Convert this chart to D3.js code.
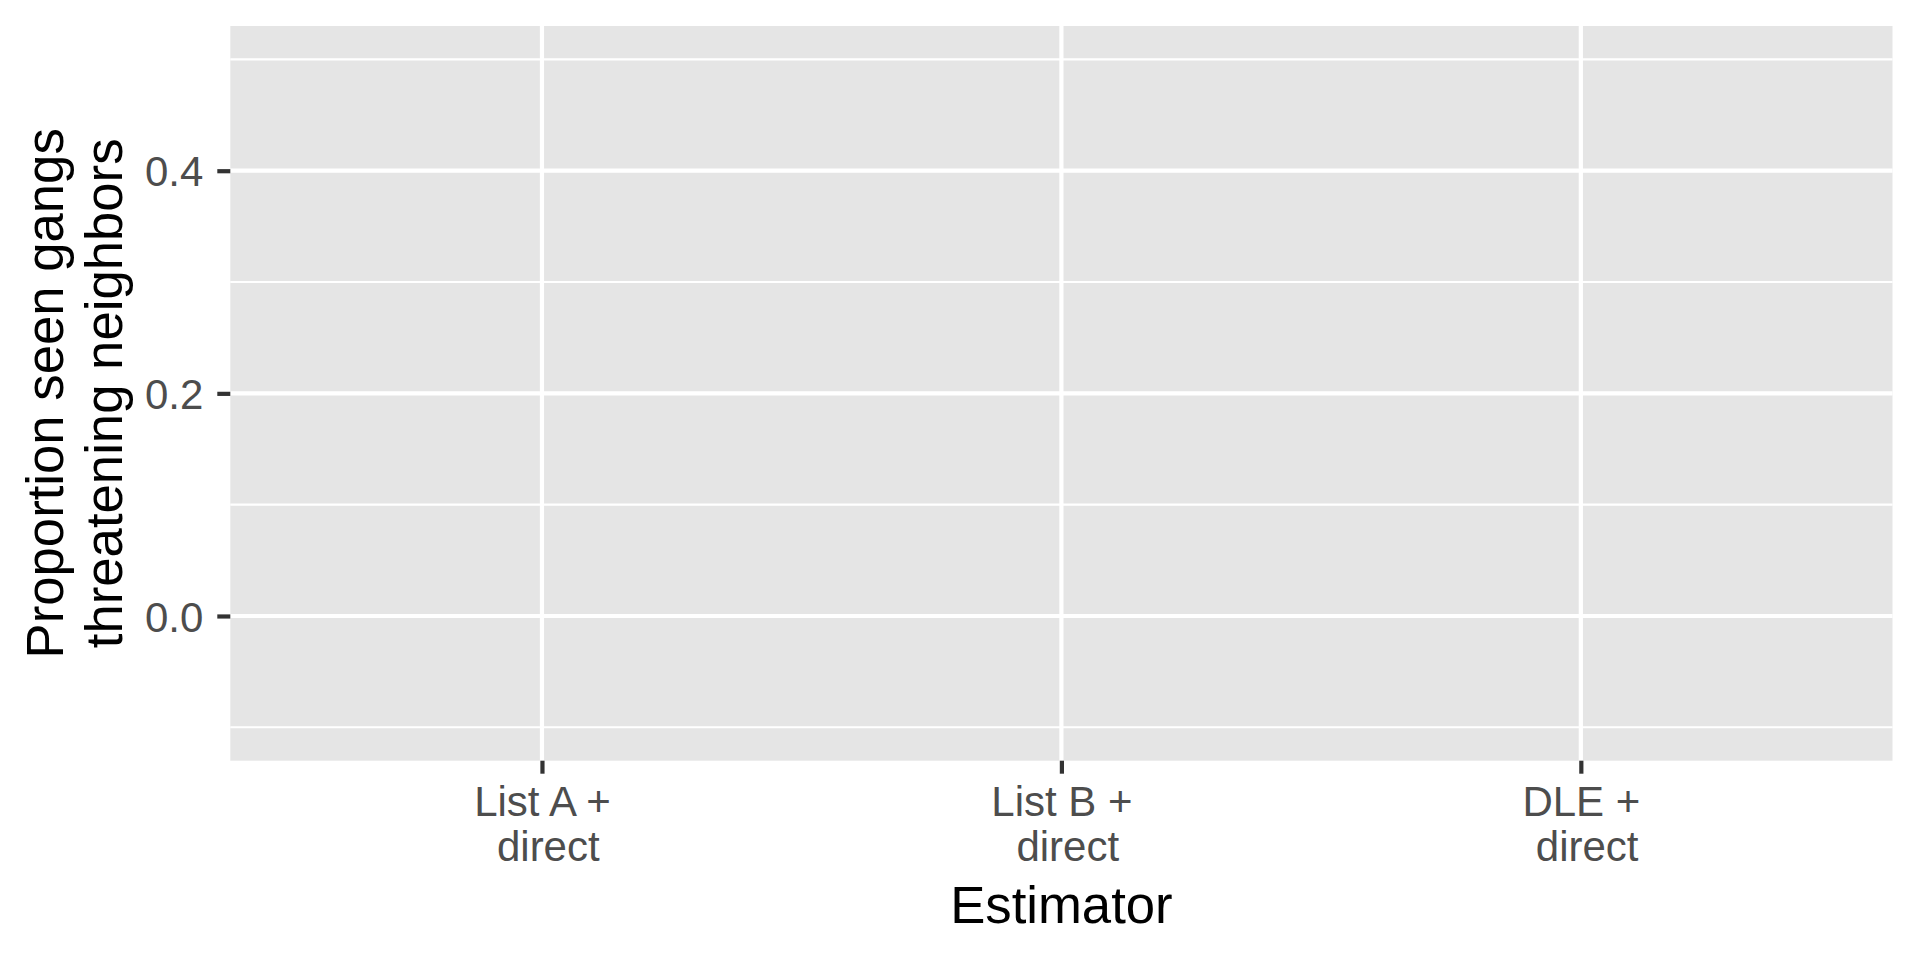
<!DOCTYPE html>
<html>
    <style>
        body { margin: 0; background: #fff; }
        text { font-family: "Liberation Sans", Arial, Helvetica, sans-serif; }
    </style>
    <body>
        <div id="chart"><svg></svg></div>
    </body>
    <script src="https://d3js.org/d3.v7.min.js"></script>
    <script>
    // x categories (each label has two lines, the second one starts with a space)
    var categories = ["List A +|\u00a0direct", "List B +|\u00a0direct", "DLE +|\u00a0direct"]
    // range of the estimates behind the (empty) panel
    var estimateRange = [-0.1, 0.5]
    var yTicks = [0, 0.2, 0.4]
    var yMinor = [-0.1, 0.1, 0.3, 0.5]
    var xTitle = "Estimator"
    var yTitle = ["Proportion seen gangs", "threatening neighbors"]

    var screen = {width: 1920, height: 960}
    var panel = {left: 230.3, right: 1892.5, top: 26, bottom: 760.7}

    var svg = d3.select("#chart svg")
                .attr("width", screen.width)
                .attr("height", screen.height)

    // discrete scale, ggplot style 0.6 expansion on each side
    var xScale = d3.scalePoint()
                   .domain(categories)
                   .range([panel.left, panel.right])
                   .padding(0.6)

    // continuous scale, 5% expansion
    var span = estimateRange[1] - estimateRange[0]
    var yScale = d3.scaleLinear()
                   .domain([estimateRange[0] - 0.05 * span, estimateRange[1] + 0.05 * span])
                   .range([panel.bottom, panel.top])

    svg.append("rect")
       .attr("x", panel.left)
       .attr("y", panel.top)
       .attr("width", panel.right - panel.left)
       .attr("height", panel.bottom - panel.top)
       .attr("fill", "#E5E5E5")

    var grid = svg.append("g")
    grid.selectAll(".minor")
        .data(yMinor)
        .enter()
        .append("line")
        .attr("x1", panel.left)
        .attr("x2", panel.right)
        .attr("y1", function(d){return yScale(d)})
        .attr("y2", function(d){return yScale(d)})
        .attr("stroke", "#fff")
        .attr("stroke-width", 2.1)
    grid.selectAll(".major")
        .data(yTicks)
        .enter()
        .append("line")
        .attr("x1", panel.left)
        .attr("x2", panel.right)
        .attr("y1", function(d){return yScale(d)})
        .attr("y2", function(d){return yScale(d)})
        .attr("stroke", "#fff")
        .attr("stroke-width", 4.2)
    grid.selectAll(".vmajor")
        .data(categories)
        .enter()
        .append("line")
        .attr("x1", function(d){return xScale(d)})
        .attr("x2", function(d){return xScale(d)})
        .attr("y1", panel.top)
        .attr("y2", panel.bottom)
        .attr("stroke", "#fff")
        .attr("stroke-width", 4.2)

    var yAxis = d3.axisLeft(yScale)
                  .tickValues(yTicks)
                  .tickFormat(d3.format(".1f"))
                  .tickSize(13)
                  .tickPadding(14)
    var xAxis = d3.axisBottom(xScale)
                  .tickSize(13)
                  .tickFormat("")

    var gy = svg.append("g")
                .attr("transform", "translate(" + panel.left + ",0)")
                .call(yAxis)
    var gx = svg.append("g")
                .attr("transform", "translate(0," + panel.bottom + ")")
                .call(xAxis)

    svg.selectAll(".domain").remove()
    svg.selectAll(".tick line")
       .attr("stroke", "#333333")
       .attr("stroke-width", 4.2)
    gy.selectAll(".tick text")
      .attr("fill", "#4D4D4D")
      .attr("font-size", 42)
      .attr("dy", "0.36em")

    // two-line category labels
    gx.selectAll(".tick text").remove()
    var xl = gx.selectAll(".tick")
               .append("text")
               .attr("fill", "#4D4D4D")
               .attr("font-size", 42)
               .attr("text-anchor", "middle")
    xl.selectAll("tspan")
      .data(function(d){return d.split("|")})
      .enter()
      .append("tspan")
      .attr("x", 0)
      .attr("y", function(d, i){return 55.3 + i * 44.7})
      .text(function(d){return d})

    svg.append("text")
       .attr("x", (panel.left + panel.right) / 2)
       .attr("y", 922.7)
       .attr("text-anchor", "middle")
       .attr("font-size", 52.7)
       .attr("fill", "#000")
       .text(xTitle)

    var yt = svg.append("text")
                .attr("transform", "translate(0," + (panel.top + panel.bottom) / 2 + ") rotate(-90)")
                .attr("text-anchor", "middle")
                .attr("font-size", 52.7)
                .attr("fill", "#000")
    yt.selectAll("tspan")
      .data(yTitle)
      .enter()
      .append("tspan")
      .attr("x", 0)
      .attr("y", function(d, i){return 63.3 + i * 58.4})
      .text(function(d){return d})
    </script>
</html>
